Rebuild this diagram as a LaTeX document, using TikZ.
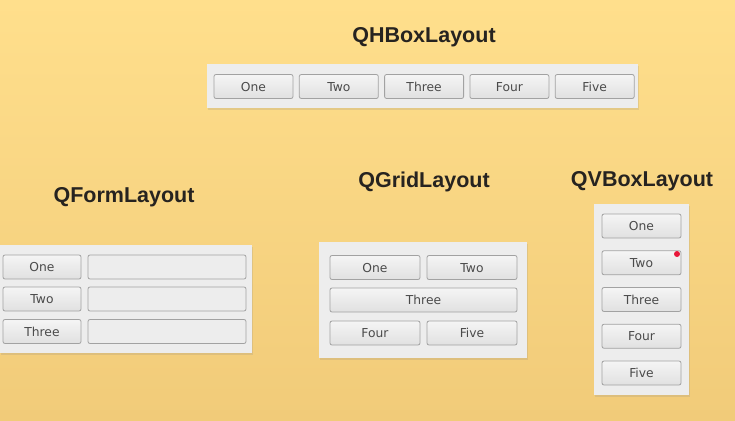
\documentclass[tikz,border=0pt]{standalone}
\usepackage{fontspec}
\setmainfont{DejaVu Sans}
\newfontfamily\titlefont{Liberation Sans}
\usetikzlibrary{shadows}

\definecolor{bgtop}{HTML}{FFDF8C}
\definecolor{bgbot}{HTML}{F1CB79}
\definecolor{panelgray}{HTML}{EDEDED}
\definecolor{btnline}{HTML}{A2A2A2}
\definecolor{btntext}{HTML}{4A4A4A}
\definecolor{titletext}{HTML}{262320}
\definecolor{dotred}{HTML}{E8173A}

\tikzset{
  panel/.style={fill=panelgray, draw=none, inner sep=0pt,
    drop shadow={opacity=0.18, shadow xshift=1pt, shadow yshift=-1.5pt}},
  btn/.style={draw=btnline, line width=0.8pt, rounded corners=2pt,
    top color=white!96!black, bottom color=white!88!black,
    text=btntext, font=\fontsize{12.3}{13}\selectfont,
    text height=9pt, text depth=0pt,
    minimum width=79pt, minimum height=24pt, inner sep=0pt},
  edit/.style={draw=btnline, line width=0.8pt, rounded corners=2pt,
    fill=white!93!black, minimum width=158pt, minimum height=24pt, inner sep=0pt},
  title/.style={text=titletext, font=\titlefont\bfseries\fontsize{21.5}{23}\selectfont}
}

\begin{document}
\begin{tikzpicture}[x=1pt,y=-1pt]

    \fill [top color=bgtop, bottom color=bgbot] (0,0) rectangle (735,420);

    % QHBoxLayout
    \node [title] (thbox) at (424,37) {QHBoxLayout};
    \node [panel, minimum width=431pt, minimum height=44pt] (hbox) at (422.5,86) {};
    \foreach \name [count=\i from 0] in {One,Two,Three,Four,Five}
        \node [btn] (h\i) at (253.5+85.3*\i,86.5) {\name};

    % QFormLayout
    \node [title] (tform) at (124,197) {QFormLayout};
    \node [panel, minimum width=252pt, minimum height=108pt] (form) at (126,299) {};
    \foreach \name/\y [count=\i] in {One/267,Two/299,Three/331.5} {
        \node [btn, minimum width=78pt] (f\i) at (42,\y) {\name};
        \node [edit] (fe\i) at (167,\y) {};
    }

    % QGridLayout
    \node [title] (tgrid) at (424,182) {QGridLayout};
    \node [panel, minimum width=208pt, minimum height=116pt] (grid) at (422.5,300) {};
    \node [btn, minimum width=90pt] (g1) at (375,267.5) {One};
    \node [btn, minimum width=90pt] (g2) at (472,267.5) {Two};
    \node [btn, minimum width=187pt] (g3) at (423.5,300) {Three};
    \node [btn, minimum width=90pt] (g4) at (375,333) {Four};
    \node [btn, minimum width=90pt] (g5) at (472,333) {Five};

    % QVBoxLayout
    \node [title] (tvbox) at (642,181) {QVBoxLayout};
    \node [panel, minimum width=95pt, minimum height=191pt] (vbox) at (641.5,299.5) {};
    \foreach \name [count=\i from 0] in {One,Two,Three,Four,Five}
        \node [btn] (v\i) at (641.5,226+36.75*\i) {\name};
    \coordinate (dot) at (677,254);
    \fill [dotred] (dot) circle (3);

\end{tikzpicture}
\end{document}
